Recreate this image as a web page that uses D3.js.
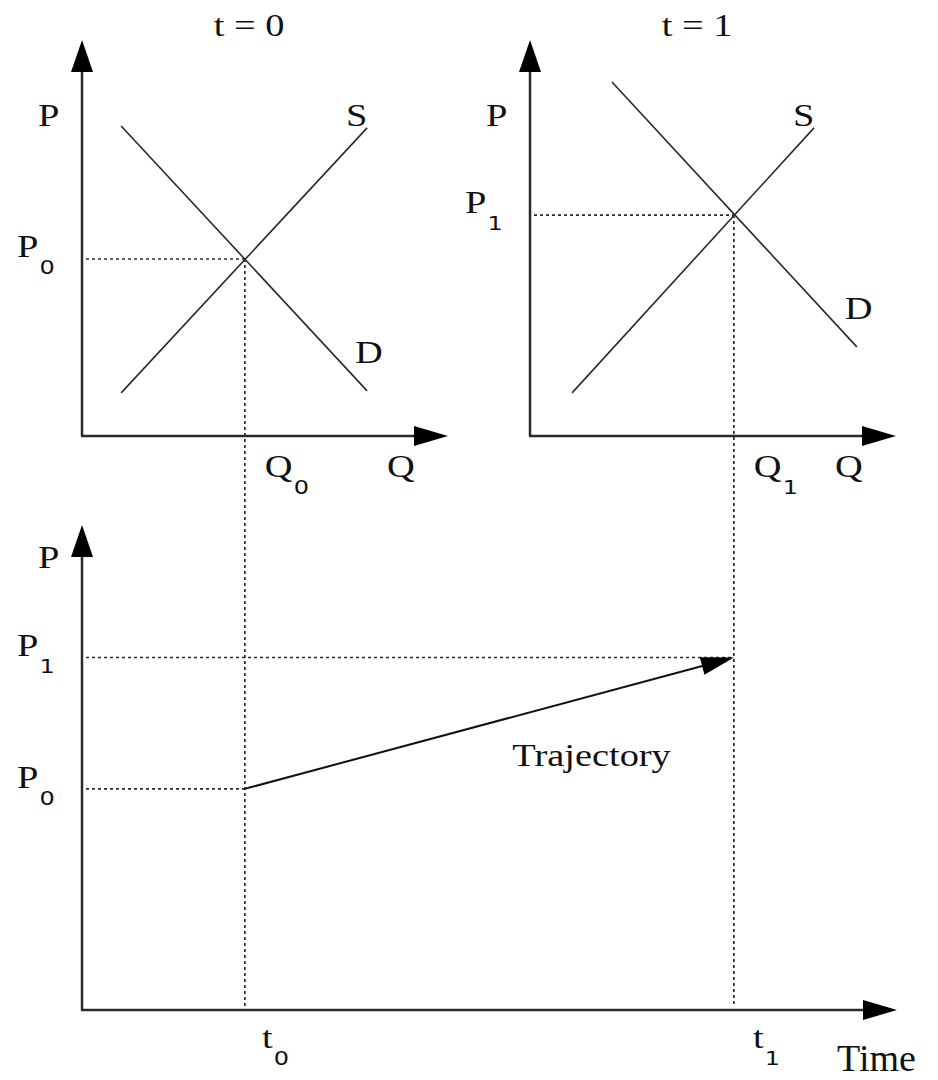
<!DOCTYPE html>
<html>
<head>
<meta charset="utf-8">
<script src="https://cdn.jsdelivr.net/npm/d3@7"></script>
<style>
  body { margin: 0; background: #fff; }
  text { fill: #111; }
</style>
</head>
<body>
<script>

const WIDTH = 938;
const HEIGHT = 1080;

// data, in chart units (price P, quantity Q, time t)
const panelTitles = ["t = 0", "t = 1"];
const supply0 = [{q: 1.07, p: 1.09}, {q: 7.79, p: 7.78}];
const demand0 = [{q: 1.07, p: 7.83}, {q: 7.79, p: 1.14}];
const supply1 = [{q: 1.15, p: 1.09}, {q: 7.76, p: 7.78}];
const demand1 = [{q: 2.24, p: 8.94}, {q: 8.93, p: 2.25}];
const equilibrium = [{q: 4.45, p: 4.47}, {q: 5.57, p: 5.58}];
const times = [2, 8];
const priceLabels = ["0", "1"];

const svg = d3.select("body")
              .append("svg")
                .attr("width", WIDTH)
                .attr("height", HEIGHT);

const INK = "#2a2a2a";
const STRETCH = 1.2;   // the reference letters are drawn wide

// scales for the two small S/D panels
const TOP = {y0: 436, y1: 40, w: 366};
const panels = [
  {ox: 82, supply: supply0, demand: demand0, eq: equilibrium[0], title: panelTitles[0], sub: priceLabels[0]},
  {ox: 530, supply: supply1, demand: demand1, eq: equilibrium[1], title: panelTitles[1], sub: priceLabels[1]}
];
panels.forEach(pn => {
  pn.x = d3.scaleLinear().domain([0, 10]).range([pn.ox, pn.ox + TOP.w]);
  pn.y = d3.scaleLinear().domain([0, 10]).range([TOP.y0, TOP.y1]);
});

// bottom panel scales (time vs price)
const X_BOT = d3.scaleLinear().domain([0, 10]).range([82, 897]);
const Y_BOT = d3.scaleLinear().domain([2.6, 6.7]).range([1010, 525]);

function arrowHead(g, x, y, angle, len, half) {
  // solid triangle, tip at (x,y), pointing along angle (radians)
  const c = Math.cos(angle), s = Math.sin(angle);
  const bx = x - c * len, by = y - s * len;
  const pts = [[x, y], [bx - s * half, by + c * half], [bx + s * half, by - c * half]];
  g.append("path")
    .attr("d", d3.line()(pts) + "Z")
    .attr("fill", "#000");
}

function axes(g, x0, y0, xTip, yTip) {
  g.append("line")
    .attr("x1", x0).attr("y1", y0).attr("x2", x0).attr("y2", yTip + 28)
    .attr("stroke", INK).attr("stroke-width", 2.5);
  g.append("line")
    .attr("x1", x0 - 1).attr("y1", y0).attr("x2", xTip - 30).attr("y2", y0)
    .attr("stroke", INK).attr("stroke-width", 2.5);
  arrowHead(g, x0, yTip, -Math.PI / 2, 32, 11);
  arrowHead(g, xTip, y0, 0, 34, 10);
}

function dotted(g, x1, y1, x2, y2) {
  g.append("line")
    .attr("x1", x1).attr("y1", y1).attr("x2", x2).attr("y2", y2)
    .attr("stroke", INK).attr("stroke-width", 1.7)
    .attr("stroke-dasharray", "3,3");
}

// label: serif letter with optional sans subscript, stretched sideways
function label(x, y, main, sub, size, anchor) {
  const t = svg.append("text")
    .attr("transform", `translate(${x},${y}) scale(${STRETCH},1)`)
    .attr("font-family", "'Liberation Serif', 'Times New Roman', serif")
    .attr("font-size", size || 32)
    .attr("text-anchor", anchor || "start")
    .text(main);
  if (sub !== undefined) {
    t.append("tspan")
      .attr("font-family", "'DejaVu Sans', sans-serif")
      .attr("font-size", 20)
      .attr("dx", 1)
      .attr("dy", 17)
      .text(sub);
  }
  return t;
}

const line = (sx, sy) => d3.line().x(d => sx(d.q)).y(d => sy(d.p));

// ---- the two supply / demand panels
panels.forEach(pn => {
  const g = svg.append("g");
  const ex = pn.x(pn.eq.q), ey = pn.y(pn.eq.p);

  dotted(g, pn.ox + 4, ey, ex, ey);
  // vertical guide runs on into the bottom panel
  dotted(g, ex, ey, ex, Y_BOT(2.6) - 4);

  axes(g, pn.ox, TOP.y0, pn.x(10), TOP.y1);

  g.append("path").datum(pn.supply)
    .attr("d", line(pn.x, pn.y))
    .attr("fill", "none").attr("stroke", INK).attr("stroke-width", 1.6);
  g.append("path").datum(pn.demand)
    .attr("d", line(pn.x, pn.y))
    .attr("fill", "none").attr("stroke", INK).attr("stroke-width", 1.6);

  label((pn.x(0) + pn.x(10)) / 2 - 16, 36, pn.title, undefined, 32, "middle");
  label(pn.ox - 44, 126, "P");
  label(pn.x(pn.supply[1].q) - 21, 126, "S");
  label(pn.x(pn.demand[1].q) - 12, pn.y(pn.demand[1].p) - 28, "D");
  label(pn.ox - 65, ey - 2, "P", pn.sub);
  label(ex + 20, 477, "Q", pn.sub);
  label(pn.x(10) - 61, 477, "Q");
});

// ---- bottom panel: price over time
const gb = svg.append("g");
const p0y = Y_BOT(equilibrium[0].p), p1y = Y_BOT(equilibrium[1].p);
const t0x = X_BOT(times[0]), t1x = X_BOT(times[1]);

dotted(gb, 86, p1y, t1x, p1y);
dotted(gb, 86, p0y, t0x, p0y);

axes(gb, X_BOT(0), Y_BOT(2.6), X_BOT(10), Y_BOT(6.7));

const ang = Math.atan2(p1y - p0y, t1x - t0x);
gb.append("line")
  .attr("x1", t0x).attr("y1", p0y)
  .attr("x2", t1x - Math.cos(ang) * 28).attr("y2", p1y - Math.sin(ang) * 28)
  .attr("stroke", "#111").attr("stroke-width", 2);
arrowHead(gb, t1x, p1y, ang, 33, 9);

label(X_BOT(0) - 44, Y_BOT(6.7) + 43, "P");
label(X_BOT(0) - 65, p1y - 1, "P", priceLabels[1]);
label(X_BOT(0) - 65, p0y - 1, "P", priceLabels[0]);
label(X_BOT(5.28), p0y - 23, "Trajectory");
label(t0x + 17, Y_BOT(2.6) + 38, "t", priceLabels[0]);
label(t1x + 19, Y_BOT(2.6) + 38, "t", priceLabels[1]);
svg.append("text")
  .attr("x", X_BOT(10) - 60).attr("y", 1071)
  .attr("font-family", "'Liberation Serif', 'Times New Roman', serif")
  .attr("font-size", 38)
  .text("Time");

</script>
</body>
</html>
